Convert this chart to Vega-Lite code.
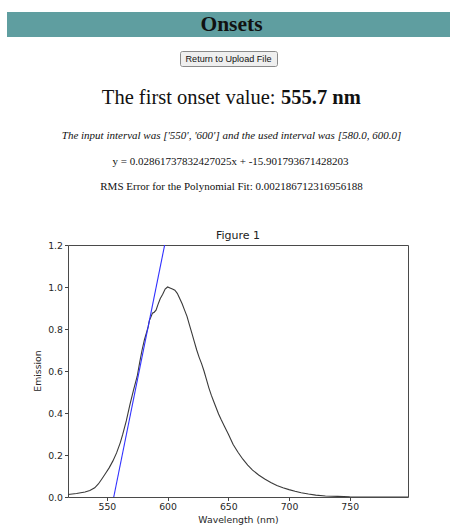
{
  "$schema": "https://vega.github.io/schema/vega-lite/v6.json",
  "background": "white",
  "padding": {"left": 7, "top": 12, "right": 0, "bottom": 0},
  "config": {
    "view": {"stroke": null},
    "text": {"font": "Liberation Serif", "color": "#111"}
  },
  "spacing": 37,
  "vconcat": [
    {
      "bounds": "flush",
      "center": true,
      "spacing": 14,
      "vconcat": [
        {
          "width": 443,
          "height": 25,
          "view": {"fill": "#5f9ea0"},
          "data": {"values": [{"heading": "Onsets"}]},
          "mark": {"type": "text", "fontSize": 21.5, "fontWeight": "bold", "dx": 3},
          "encoding": {"text": {"field": "heading"}}
        },
        {
          "width": 97,
          "height": 15,
          "view": {"fill": "#efefef", "stroke": "#8a8a8a", "strokeWidth": 1, "cornerRadius": 2},
          "data": {"values": [{"label": "Return to Upload File"}]},
          "mark": {"type": "text", "font": "Liberation Sans", "fontSize": 9.1},
          "encoding": {"text": {"field": "label"}}
        },
        {
          "width": 443,
          "height": 36,
          "data": {"values": [{"label": "The first onset value:", "onset": "555.7 nm"}]},
          "layer": [
            {
              "mark": {"type": "text", "fontSize": 20.5, "align": "right", "dx": 47},
              "encoding": {"text": {"field": "label"}}
            },
            {
              "mark": {"type": "text", "fontSize": 20.5, "fontWeight": "bold", "align": "left", "dx": 52.5},
              "encoding": {"text": {"field": "onset"}}
            }
          ]
        },
        {
          "width": 443,
          "height": 12,
          "data": {"values": [{"note": "The input interval was ['550', '600'] and the used interval was [580.0, 600.0]"}]},
          "mark": {"type": "text", "fontSize": 11, "fontStyle": "italic", "dx": 3},
          "encoding": {"text": {"field": "note"}}
        },
        {
          "width": 443,
          "height": 12,
          "data": {"values": [{"equation": "y = 0.02861737832427025x + -15.901793671428203"}]},
          "mark": {"type": "text", "fontSize": 11, "dx": 2},
          "encoding": {"text": {"field": "equation"}}
        },
        {
          "width": 443,
          "height": 10,
          "data": {"values": [{"rms": "RMS Error for the Polynomial Fit: 0.002186712316956188"}]},
          "mark": {"type": "text", "fontSize": 11, "dx": 3},
          "encoding": {"text": {"field": "rms"}}
        }
      ]
    },
    {
      "bounds": "flush",
      "spacing": 0,
      "hconcat": [
        {
          "width": 61,
          "height": 252,
          "data": {"values": [{"axis_label": "Emission"}]},
          "mark": {"type": "text", "angle": 270, "font": "DejaVu Sans", "fontSize": 9.3, "color": "#262626"},
          "encoding": {"text": {"field": "axis_label"}}
        },
        {
          "width": 340,
          "height": 252,
          "view": {"stroke": "#4a4a4a", "strokeWidth": 1},
          "title": {"text": "Figure 1", "font": "DejaVu Sans", "fontSize": 11, "fontWeight": "normal", "color": "#222", "offset": 0},
          "layer": [
            {
              "data": {"values": [
                {"wavelength": 518, "emission": 0.012},
                {"wavelength": 525, "emission": 0.017},
                {"wavelength": 532, "emission": 0.024},
                {"wavelength": 536, "emission": 0.031},
                {"wavelength": 540, "emission": 0.044},
                {"wavelength": 543, "emission": 0.062},
                {"wavelength": 546, "emission": 0.087},
                {"wavelength": 549, "emission": 0.113},
                {"wavelength": 552, "emission": 0.14},
                {"wavelength": 555, "emission": 0.172},
                {"wavelength": 558, "emission": 0.21},
                {"wavelength": 561, "emission": 0.258},
                {"wavelength": 563, "emission": 0.297},
                {"wavelength": 566, "emission": 0.362},
                {"wavelength": 569, "emission": 0.44},
                {"wavelength": 572, "emission": 0.51},
                {"wavelength": 575, "emission": 0.575},
                {"wavelength": 577, "emission": 0.64},
                {"wavelength": 579, "emission": 0.70},
                {"wavelength": 581, "emission": 0.75},
                {"wavelength": 583, "emission": 0.79},
                {"wavelength": 584, "emission": 0.81},
                {"wavelength": 585, "emission": 0.84},
                {"wavelength": 586.5, "emission": 0.86},
                {"wavelength": 587.5, "emission": 0.875},
                {"wavelength": 589, "emission": 0.88},
                {"wavelength": 590.5, "emission": 0.89},
                {"wavelength": 592, "emission": 0.915},
                {"wavelength": 594, "emission": 0.945},
                {"wavelength": 596, "emission": 0.965},
                {"wavelength": 598, "emission": 0.99},
                {"wavelength": 600, "emission": 1.0},
                {"wavelength": 602, "emission": 0.995},
                {"wavelength": 604, "emission": 0.99},
                {"wavelength": 606, "emission": 0.985},
                {"wavelength": 608, "emission": 0.97},
                {"wavelength": 610, "emission": 0.945},
                {"wavelength": 612, "emission": 0.92},
                {"wavelength": 614, "emission": 0.89},
                {"wavelength": 616, "emission": 0.86},
                {"wavelength": 618, "emission": 0.82},
                {"wavelength": 620, "emission": 0.78},
                {"wavelength": 622, "emission": 0.74},
                {"wavelength": 624, "emission": 0.70},
                {"wavelength": 626, "emission": 0.665},
                {"wavelength": 628, "emission": 0.635},
                {"wavelength": 630, "emission": 0.60},
                {"wavelength": 632, "emission": 0.56},
                {"wavelength": 634, "emission": 0.52},
                {"wavelength": 636, "emission": 0.485},
                {"wavelength": 638, "emission": 0.455},
                {"wavelength": 640, "emission": 0.425},
                {"wavelength": 642, "emission": 0.395},
                {"wavelength": 644, "emission": 0.37},
                {"wavelength": 647, "emission": 0.335},
                {"wavelength": 650, "emission": 0.30},
                {"wavelength": 654, "emission": 0.25},
                {"wavelength": 658, "emission": 0.213},
                {"wavelength": 662, "emission": 0.18},
                {"wavelength": 666, "emission": 0.152},
                {"wavelength": 670, "emission": 0.128},
                {"wavelength": 675, "emission": 0.105},
                {"wavelength": 680, "emission": 0.086},
                {"wavelength": 685, "emission": 0.069},
                {"wavelength": 690, "emission": 0.055},
                {"wavelength": 695, "emission": 0.044},
                {"wavelength": 700, "emission": 0.035},
                {"wavelength": 705, "emission": 0.027},
                {"wavelength": 710, "emission": 0.02},
                {"wavelength": 716, "emission": 0.014},
                {"wavelength": 722, "emission": 0.009},
                {"wavelength": 730, "emission": 0.005},
                {"wavelength": 740, "emission": 0.003},
                {"wavelength": 750, "emission": 0.001},
                {"wavelength": 765, "emission": 0.0},
                {"wavelength": 780, "emission": 0.0},
                {"wavelength": 798, "emission": 0.0}
              ]},
              "mark": {"type": "line", "color": "#3a3a3a", "strokeWidth": 1.1, "clip": true},
              "encoding": {
                "x": {
                  "field": "wavelength",
                  "type": "quantitative",
                  "scale": {"domain": [518, 798], "nice": false, "zero": false},
                  "axis": {
                    "title": "Wavelength (nm)",
                    "values": [550, 600, 650, 700, 750],
                    "grid": false,
                    "domain": false,
                    "labelFlush": false,
                    "tickColor": "#444",
                    "tickSize": 3.5,
                    "labelFont": "DejaVu Sans",
                    "labelFontSize": 9.3,
                    "labelColor": "#262626",
                    "labelPadding": 2,
                    "titleFont": "DejaVu Sans",
                    "titleFontSize": 9.3,
                    "titleFontWeight": "normal",
                    "titleColor": "#262626",
                    "titlePadding": 4
                  }
                },
                "y": {
                  "field": "emission",
                  "type": "quantitative",
                  "scale": {"domain": [0, 1.2], "nice": false},
                  "axis": {
                    "title": null,
                    "values": [0, 0.2, 0.4, 0.6, 0.8, 1.0, 1.2],
                    "format": ".1f",
                    "grid": false,
                    "domain": false,
                    "labelFlush": false,
                    "tickColor": "#444",
                    "tickSize": 3.5,
                    "labelFont": "DejaVu Sans",
                    "labelFontSize": 9.3,
                    "labelColor": "#262626",
                    "labelPadding": 2
                  }
                }
              }
            },
            {
              "data": {"values": [
                {"wavelength": 555.67, "emission": 0},
                {"wavelength": 597.60, "emission": 1.2}
              ]},
              "mark": {"type": "line", "color": "#3030ff", "strokeWidth": 1.1, "clip": true},
              "encoding": {
                "x": {"field": "wavelength", "type": "quantitative"},
                "y": {"field": "emission", "type": "quantitative"}
              }
            }
          ]
        }
      ]
    }
  ]
}
